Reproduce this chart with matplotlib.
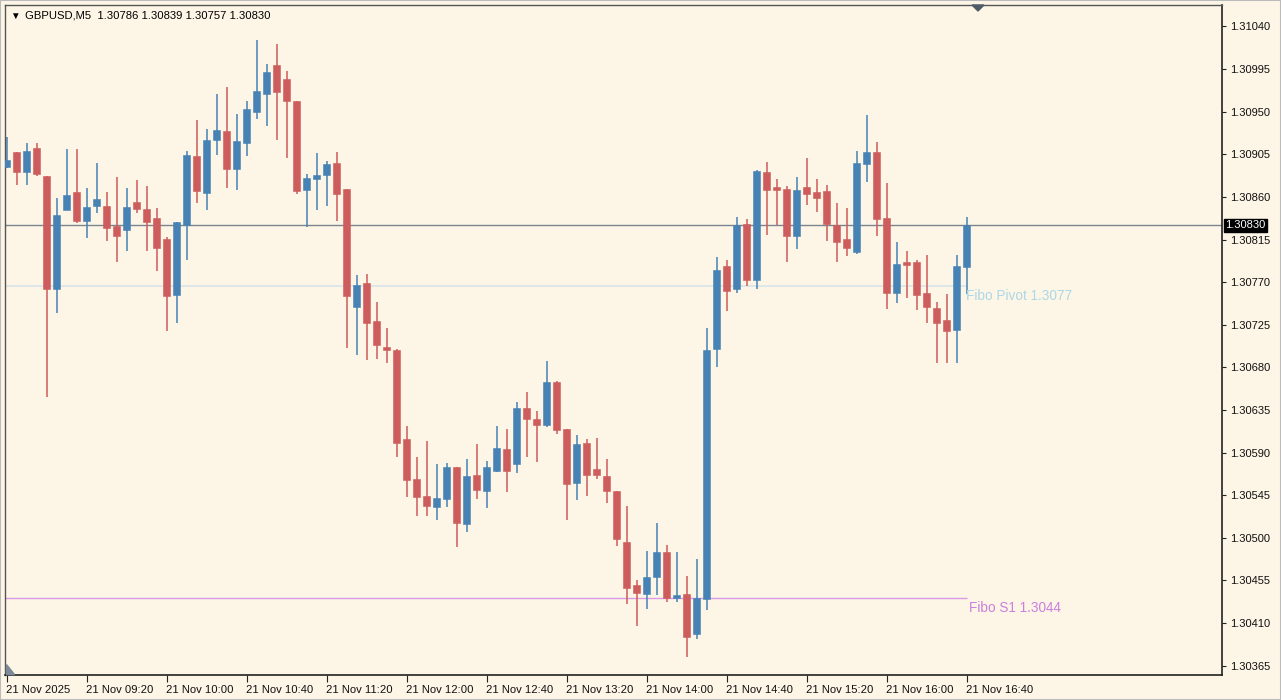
import matplotlib
matplotlib.use("Agg")
import matplotlib.pyplot as plt
import matplotlib.transforms as mtransforms
import numpy as np

# ---------------- data (GBPUSD M5, 21 Nov 2025, 08:40 .. 16:40) ----------------
opens = [1.30892, 1.30907, 1.30886, 1.30912, 1.30882, 1.30763, 1.30846, 1.30865, 1.30835, 1.30850,
         1.30850, 1.30829, 1.30825, 1.30855, 1.30847, 1.30838, 1.30816, 1.30756, 1.30830, 1.30903,
         1.30864, 1.30920, 1.30930, 1.30889, 1.30917, 1.30950, 1.30969, 1.30999, 1.30985, 1.30961,
         1.30867, 1.30879, 1.30883, 1.30896, 1.30868, 1.30744, 1.30769, 1.30729, 1.30701, 1.30698,
         1.30604, 1.30562, 1.30544, 1.30532, 1.30541, 1.30575, 1.30515, 1.30566, 1.30549, 1.30570,
         1.30594, 1.30578, 1.30637, 1.30625, 1.30619, 1.30664, 1.30615, 1.30558, 1.30600, 1.30573,
         1.30565, 1.30549, 1.30495, 1.30450, 1.30441, 1.30459, 1.30485, 1.30436, 1.30441, 1.30398,
         1.30435, 1.30699, 1.30787, 1.30763, 1.30831, 1.30772, 1.30886, 1.30870, 1.30868, 1.30819,
         1.30870, 1.30865, 1.30866, 1.30830, 1.30816, 1.30802, 1.30895, 1.30907, 1.30838, 1.30758,
         1.30791, 1.30791, 1.30759, 1.30743, 1.30730, 1.30719, 1.30786]
highs = [1.30923, 1.30907, 1.30917, 1.30917, 1.30882, 1.30859, 1.30911, 1.30911, 1.30869, 1.30896,
         1.30865, 1.30881, 1.30869, 1.30878, 1.30872, 1.30848, 1.30818, 1.30833, 1.30909, 1.30941,
         1.30932, 1.30969, 1.30976, 1.30948, 1.30961, 1.31026, 1.31000, 1.31022, 1.30993, 1.30961,
         1.30884, 1.30906, 1.30898, 1.30907, 1.30868, 1.30778, 1.30779, 1.30749, 1.30721, 1.30699,
         1.30618, 1.30585, 1.30602, 1.30578, 1.30579, 1.30575, 1.30583, 1.30599, 1.30581, 1.30618,
         1.30615, 1.30643, 1.30654, 1.30634, 1.30687, 1.30666, 1.30615, 1.30608, 1.30604, 1.30605,
         1.30583, 1.30549, 1.30534, 1.30455, 1.30486, 1.30516, 1.30492, 1.30485, 1.30460, 1.30478,
         1.30721, 1.30796, 1.30793, 1.30839, 1.30837, 1.30888, 1.30897, 1.30879, 1.30872, 1.30881,
         1.30901, 1.30879, 1.30873, 1.30854, 1.30848, 1.30909, 1.30946, 1.30918, 1.30875, 1.30812,
         1.30803, 1.30793, 1.30799, 1.30749, 1.30757, 1.30799, 1.30839]
lows = [1.30891, 1.30873, 1.30873, 1.30882, 1.30649, 1.30737, 1.30846, 1.30832, 1.30817, 1.30843,
        1.30813, 1.30791, 1.30803, 1.30843, 1.30803, 1.30782, 1.30718, 1.30727, 1.30793, 1.30854,
        1.30846, 1.30904, 1.30869, 1.30867, 1.30903, 1.30942, 1.30935, 1.30920, 1.30901, 1.30863,
        1.30828, 1.30846, 1.30850, 1.30835, 1.30700, 1.30693, 1.30688, 1.30689, 1.30685, 1.30585,
        1.30543, 1.30523, 1.30523, 1.30519, 1.30532, 1.30490, 1.30506, 1.30541, 1.30531, 1.30569,
        1.30548, 1.30568, 1.30585, 1.30580, 1.30617, 1.30610, 1.30519, 1.30540, 1.30544, 1.30562,
        1.30537, 1.30491, 1.30430, 1.30407, 1.30425, 1.30439, 1.30432, 1.30432, 1.30374, 1.30393,
        1.30424, 1.30680, 1.30739, 1.30759, 1.30766, 1.30763, 1.30820, 1.30830, 1.30791, 1.30805,
        1.30851, 1.30844, 1.30813, 1.30791, 1.30798, 1.30800, 1.30876, 1.30819, 1.30742, 1.30748,
        1.30753, 1.30741, 1.30727, 1.30685, 1.30685, 1.30685, 1.30757]
closes = [1.30899, 1.30886, 1.30908, 1.30884, 1.30763, 1.30841, 1.30862, 1.30835, 1.30849, 1.30858,
          1.30827, 1.30819, 1.30849, 1.30847, 1.30834, 1.30806, 1.30755, 1.30833, 1.30904, 1.30866,
          1.30920, 1.30931, 1.30889, 1.30919, 1.30953, 1.30972, 1.30992, 1.30971, 1.30961, 1.30866,
          1.30880, 1.30883, 1.30895, 1.30863, 1.30755, 1.30767, 1.30727, 1.30704, 1.30698, 1.30600,
          1.30561, 1.30543, 1.30534, 1.30542, 1.30575, 1.30516, 1.30565, 1.30550, 1.30575, 1.30595,
          1.30570, 1.30637, 1.30625, 1.30619, 1.30665, 1.30614, 1.30557, 1.30599, 1.30566, 1.30566,
          1.30549, 1.30499, 1.30447, 1.30442, 1.30459, 1.30485, 1.30436, 1.30439, 1.30395, 1.30436,
          1.30698, 1.30783, 1.30761, 1.30830, 1.30772, 1.30887, 1.30867, 1.30867, 1.30819, 1.30867,
          1.30863, 1.30859, 1.30831, 1.30812, 1.30806, 1.30896, 1.30907, 1.30837, 1.30758, 1.30789,
          1.30788, 1.30756, 1.30744, 1.30727, 1.30718, 1.30787, 1.30830]

symbol_title = "GBPUSD,M5  1.30786 1.30839 1.30757 1.30830"
time_labels = ["21 Nov 2025", "21 Nov 09:20", "21 Nov 10:00", "21 Nov 10:40", "21 Nov 11:20",
               "21 Nov 12:00", "21 Nov 12:40", "21 Nov 13:20", "21 Nov 14:00", "21 Nov 14:40",
               "21 Nov 15:20", "21 Nov 16:00", "21 Nov 16:40"]
time_label_index = [0, 8, 16, 24, 32, 40, 48, 56, 64, 72, 80, 88, 96]
price_ticks = [1.30365, 1.30410, 1.30455, 1.30500, 1.30545, 1.30590, 1.30635, 1.30680,
               1.30725, 1.30770, 1.30815, 1.30860, 1.30905, 1.30950, 1.30995, 1.31040]
last_price = 1.30830
fibo_pivot = 1.30766
fibo_pivot_label = "Fibo Pivot 1.3077"
fibo_s1 = 1.30436
fibo_s1_label = "Fibo S1 1.3044"

# ---------------- style ----------------
BG = "#FDF5E6"
BULL = "#4682B4"
BEAR = "#CD5C5C"
W, H = 1281, 700
plt.rcParams['font.family'] = ['Liberation Sans', 'DejaVu Sans']

fig = plt.figure(figsize=(W / 100, H / 100), dpi=100, facecolor=BG)
left_px, right_px, top_px, bot_px = 5, 1222, 5, 675
ax = fig.add_axes([left_px / W, (H - bot_px) / H, (right_px - left_px) / W, (bot_px - top_px) / H])
ax.set_facecolor(BG)

n = len(opens)
x = np.arange(n)
o = np.array(opens); h = np.array(highs); l = np.array(lows); c = np.array(closes)
up = c >= o
cols = np.where(up, BULL, BEAR)

px_per_price = 94670.0
y_ref_px = 225.3
ytop = last_price + (y_ref_px - top_px) / px_per_price
ybot = last_price - (bot_px - y_ref_px) / px_per_price
ax.set_ylim(ybot, ytop)
ax.set_xlim((left_px - 6.7) / 10.0, (right_px - 6.7) / 10.0)

# levels
ax.axhline(last_price, color="#7A8590", lw=1.0, zorder=1)
ax.hlines(fibo_pivot, ax.get_xlim()[0], n - 1, color="#D8E4E8", lw=1.2, zorder=1)
ax.hlines(fibo_s1, ax.get_xlim()[0], n - 1, color="#D99AE9", lw=1.0, zorder=1)

# candles
ax.vlines(x, l, h, colors=cols, lw=1.1, zorder=2)
body_bottom = np.minimum(o, c)
body_h = np.maximum(np.abs(c - o), 1.2 / px_per_price)
ax.bar(x, body_h, bottom=body_bottom, width=0.68, color=cols, edgecolor=cols,
       linewidth=0.4, zorder=3)

# fibo labels
ax.text(n - 1 - 0.05, fibo_pivot - 3.0 / px_per_price, fibo_pivot_label, color="#ADD8E6",
        fontsize=9.8, va="top", ha="left", zorder=4)
ax.text(n - 1 + 0.25, fibo_s1 - 3.0 / px_per_price, fibo_s1_label, color="#CC80DD",
        fontsize=9.8, va="top", ha="left", zorder=4)

# axes appearance
for s in ["left", "top"]:
    ax.spines[s].set_color("#555555")
    ax.spines[s].set_linewidth(1.0)
for s in ["right", "bottom"]:
    ax.spines[s].set_color("#222222")
    ax.spines[s].set_linewidth(1.2)

ax.yaxis.tick_right()
ax.set_yticks(price_ticks)
ax.set_yticklabels([f"{p:.5f}" for p in price_ticks], fontsize=8.0, color="#111111")
ax.tick_params(axis="y", length=3, width=0.8, pad=3, color="#222222")

ax.set_xticks(time_label_index)
ax.set_xticklabels(time_labels, fontsize=8.1, color="#111111", ha="left")
ax.tick_params(axis="x", length=5, width=0.8, pad=2, color="#222222")
offset = mtransforms.ScaledTranslation(-1 / 100, 0, fig.dpi_scale_trans)
for t in ax.get_xticklabels():
    t.set_transform(t.get_transform() + offset)

# last price box on the axis
ax.text(1.0 + 3 / (right_px - left_px), last_price, f"{last_price:.5f}",
        transform=ax.get_yaxis_transform(), fontsize=8.0, color="white", va="center", ha="left",
        bbox=dict(boxstyle="square,pad=0.12", fc="black", ec="black"), zorder=5, clip_on=False)

# header
fig.text(10 / W, 1 - 16 / H, "\u25BC", fontsize=7, color="black", va="center", ha="left")
fig.text(25 / W, 1 - 16 / H, symbol_title, fontsize=8.1, color="black", va="center", ha="left")

# small markers: chart-shift triangle (top) and corner triangle (bottom-left)
fig.patches.append(plt.Polygon([[972 / W, 1 - 5 / H], [984 / W, 1 - 5 / H], [978 / W, 1 - 11 / H]],
                               closed=True, transform=fig.transFigure, color="#4F5B66"))
fig.patches.append(plt.Polygon([[6 / W, 1 - 664 / H], [6 / W, 1 - 674 / H], [14 / W, 1 - 674 / H]],
                               closed=True, transform=fig.transFigure, color="#7A8A99"))

# outer frame
fig.patches.append(plt.Rectangle((0, 0), 1, 1, transform=fig.transFigure, fill=False,
                                 ec="#BBBBBB", lw=1.5))

fig.savefig("out.png", dpi=100, facecolor=BG)
